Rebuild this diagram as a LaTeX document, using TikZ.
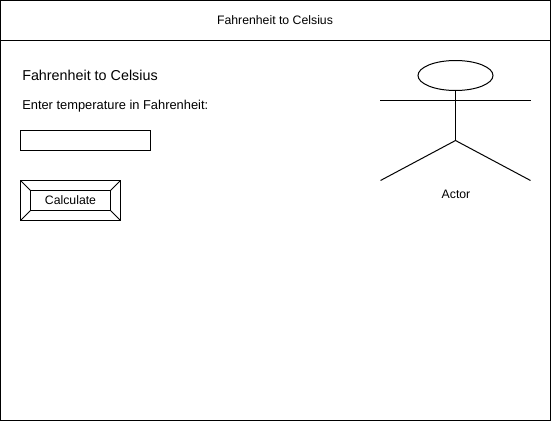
\documentclass[tikz,border=0pt]{standalone}
\usepackage{fontspec}
\setmainfont{Liberation Sans}
\usetikzlibrary{shapes.geometric}
\tikzset{x=0.75pt,y=-0.75pt,
  ln/.style={draw=black,line width=0.75pt,outer sep=0pt,inner sep=0pt},
  boxnw/.style={ln,anchor=north west},
  lbl/.style={inner sep=0pt,text=black,font=\fontsize{9.2}{11}\selectfont},
  lblb/.style={inner sep=0pt,text=black,anchor=west,font=\fontsize{10.75}{12}\selectfont},
  lblc/.style={inner sep=0pt,text=black,anchor=west,font=\fontsize{9.65}{12}\selectfont}}
\begin{document}
\begin{tikzpicture}
\useasboundingbox (0,0) rectangle (551,421);
\fill[white] (0,0) rectangle (551,421);
\node[boxnw,minimum width=412.5pt,minimum height=315pt] (frame) at (0.5,0.5) {};
\node[boxnw,minimum width=412.5pt,minimum height=30pt] (title) at (0.5,0.5) {};
\node[lbl] (titletext) at (275,20) {Fahrenheit to Celsius};
\node[lblb] (heading) at (22,75.5) {Fahrenheit to Celsius};
\node[lblc] (prompt) at (22,106.5) {Enter temperature in Fahrenheit:};
\node[boxnw,minimum width=97.5pt,minimum height=15pt] (input) at (20.5,130.5) {};
\node[boxnw,minimum width=75pt,minimum height=30pt] (btn) at (20.5,180.5) {};
\node[boxnw,minimum width=60pt,minimum height=15pt,font=\fontsize{9.2}{11}\selectfont] (btnin) at (30.5,190.5) {Calculate};
\draw[ln] (btn.north west) -- (btnin.north west);
\draw[ln] (btn.north east) -- (btnin.north east);
\draw[ln] (btn.south west) -- (btnin.south west);
\draw[ln] (btn.south east) -- (btnin.south east);
\node[ln,ellipse,minimum width=56.25pt,minimum height=22.5pt] (head) at (455.5,75.5) {};
\coordinate (hip) at (455.5,140.5);
\coordinate (armL) at (380,100.5);
\coordinate (armR) at (530.5,100.5);
\coordinate (footL) at (380.5,180.5);
\coordinate (footR) at (530.5,180.5);
\draw[ln] (head.south) -- (hip);
\draw[ln] (armL) -- (armR);
\draw[ln] (footL) -- (hip) -- (footR);
\node[lbl] (actor) at (456,194) {Actor};
\end{tikzpicture}
\end{document}
